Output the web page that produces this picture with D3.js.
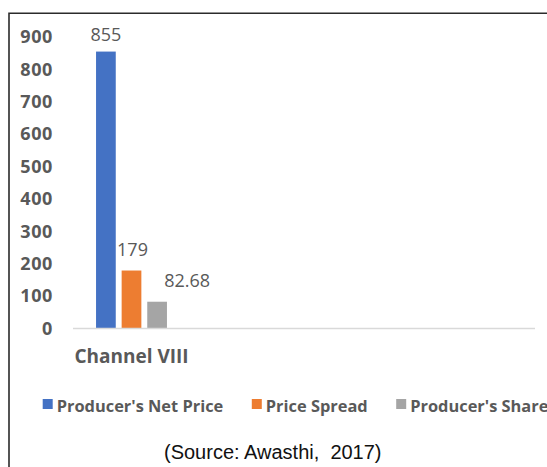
<!DOCTYPE html>
<html>
<head>
<meta charset="utf-8">
<script src="https://cdn.jsdelivr.net/npm/d3@7"></script>
<style>
  html, body { margin: 0; padding: 0; background: #fff; }
  svg { display: block; }
</style>
</head>
<body>
<script>
const categories = ["Channel VIII"];
const seriesNames = ["Producer's Net Price", "Price Spread", "Producer's Share"];
const seriesValues = [855, 179, 82.68];
const valueLabels = ["855", "179", "82.68"];
const seriesColors = ["#4472C4", "#ED7D31", "#A5A5A5"];
const yTicks = [0, 100, 200, 300, 400, 500, 600, 700, 800, 900];
const sourceText = "(Source: Awasthi,  2017)";

// label placement tweaks (style, relative to bar top/center)
const labelDx = [0, 1, 30];
const labelDy = [-11, -15, -15];

const W = 547, H = 467;
const svg = d3.select("body").append("svg").attr("width", W).attr("height", H);
svg.append("rect").attr("width", W).attr("height", H).attr("fill", "#fff");

// frame (left and top edges visible)
svg.append("path").attr("d", `M9,${H} L9,13.3 L${W},13.3`)
  .attr("fill", "none").attr("stroke", "#2b2b2b").attr("stroke-width", 1.6);

const y = d3.scaleLinear().domain([0, 900]).range([328.5, 37]);
const x0 = d3.scaleBand().domain(categories).range([73, 190]);
const x1 = d3.scaleBand().domain(seriesNames).range([0, x0.bandwidth()])
  .paddingInner(0.23).paddingOuter(0.9);

const textGray = "#595959";

// y axis labels
const yAxis = d3.axisLeft(y).tickValues(yTicks).tickSize(0).tickPadding(0);
const gy = svg.append("g").attr("transform", "translate(53,0)").call(yAxis);
gy.select(".domain").remove();
gy.selectAll("text")
  .attr("font-family", "'Open Sans', sans-serif").attr("font-weight", 700)
  .attr("font-size", 18).attr("letter-spacing", 0.6).attr("fill", textGray);

// bars
const g = svg.append("g");
const rows = seriesNames.map((s, i) => ({ s, v: seriesValues[i], lab: valueLabels[i], i }));
g.selectAll("rect.bar").data(rows).enter().append("rect")
  .attr("class", "bar")
  .attr("x", d => x0(categories[0]) + x1(d.s))
  .attr("width", x1.bandwidth())
  .attr("y", d => y(d.v))
  .attr("height", d => y(0) - y(d.v))
  .attr("fill", (d) => seriesColors[d.i]);

// baseline
svg.append("line").attr("x1", 73).attr("x2", 535).attr("y1", y(0)).attr("y2", y(0))
  .attr("stroke", "#d9d9d9").attr("stroke-width", 1.3);

// value labels
g.selectAll("text.val").data(rows).enter().append("text")
  .attr("class", "val")
  .attr("x", d => x0(categories[0]) + x1(d.s) + x1.bandwidth() / 2 + labelDx[d.i])
  .attr("y", d => y(d.v) + labelDy[d.i])
  .attr("text-anchor", "middle")
  .attr("font-family", "'Open Sans', sans-serif").attr("font-size", 18)
  .attr("fill", textGray)
  .text(d => d.lab);

// category label
svg.append("text")
  .attr("x", x0(categories[0]) + x0.bandwidth() / 2).attr("y", 363)
  .attr("text-anchor", "middle")
  .attr("font-family", "'Open Sans', sans-serif").attr("font-weight", 700)
  .attr("font-size", 19).attr("fill", textGray)
  .text(categories[0]);

// legend
const leg = svg.append("g");
let lx = 42.7;
seriesNames.forEach((s, i) => {
  leg.append("rect").attr("x", lx).attr("y", 399).attr("width", 10).attr("height", 10)
    .attr("fill", seriesColors[i]);
  const t = leg.append("text").attr("x", lx + 14).attr("y", 411.5)
    .attr("font-family", "'Open Sans', sans-serif").attr("font-weight", 700)
    .attr("font-size", 16.4).attr("fill", textGray).text(s);
  const w = t.node().getComputedTextLength();
  lx = lx + 14 + w + 28.5;
});

// source
svg.append("text").attr("x", 164).attr("y", 459).attr("text-anchor", "start")
  .attr("font-family", "'Liberation Sans', Arial, sans-serif").attr("font-size", 20)
  .attr("fill", "#111").attr("xml:space", "preserve").style("white-space", "pre")
  .text(sourceText);
</script>
</body>
</html>
